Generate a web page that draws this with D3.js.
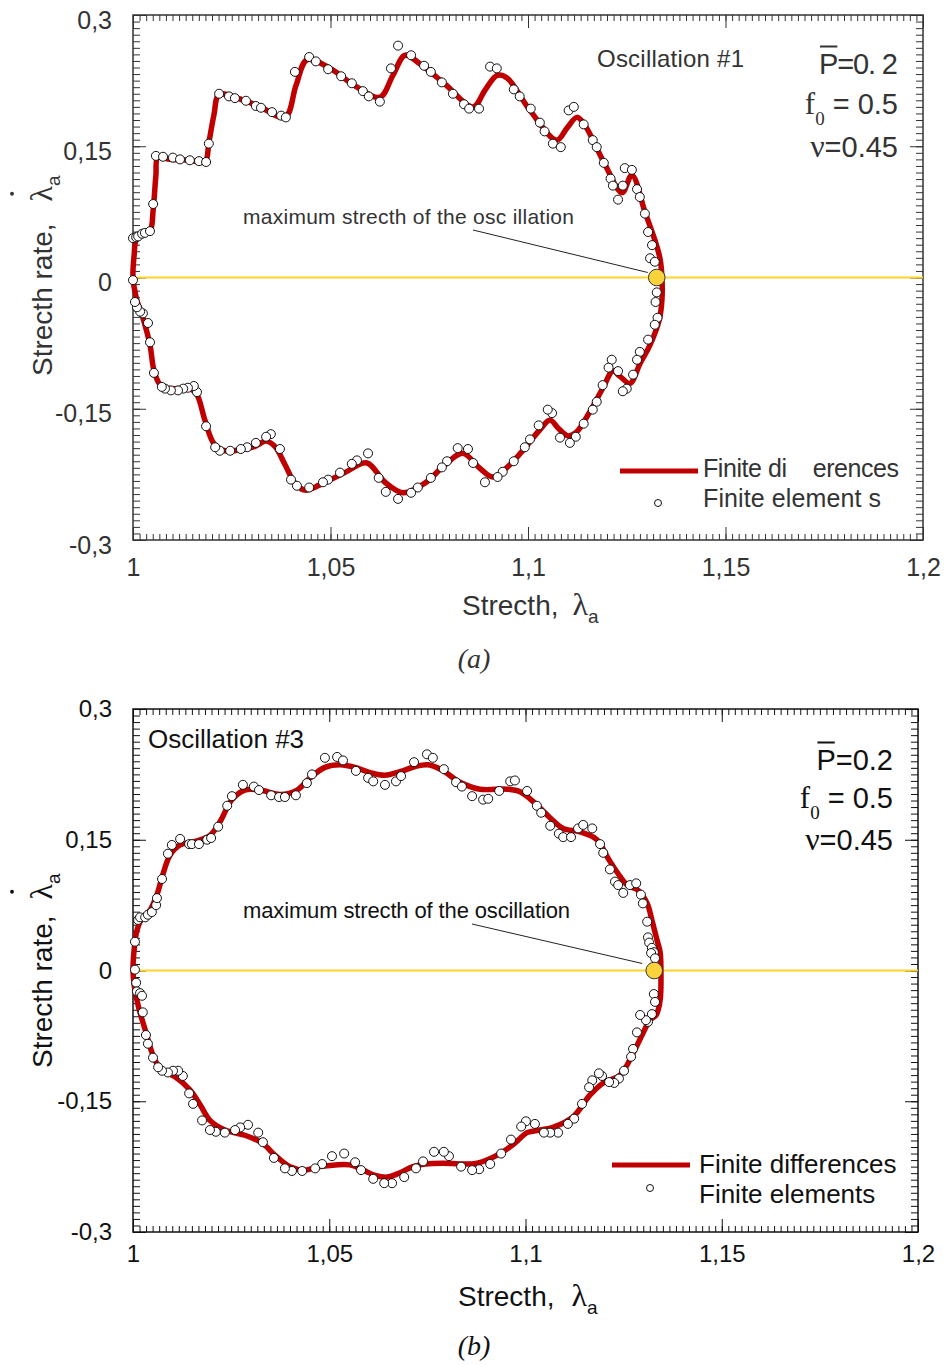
<!DOCTYPE html>
<html>
<head>
<meta charset="utf-8">
<script src="https://cdn.jsdelivr.net/npm/d3@7"></script>
<style>
  body { margin: 0; background: #fff; }
</style>
</head>
<body>
<svg id="chart" width="946" height="1365" font-family="'Liberation Sans', Arial, sans-serif"></svg>
<script>
// tick values and labels (decimal comma as in the original)
const xTicks = [1, 1.05, 1.1, 1.15, 1.2];
const xTickLabels = ['1', '1,05', '1,1', '1,15', '1,2'];
const yTicks = [-0.3, -0.15, 0, 0.15, 0.3];
const yTickLabels = ['-0,3', '-0,15', '0', '0,15', '0,3'];

// Oscillation #1 : finite differences (closed loop) [stretch, stretch rate]
const curveA = [
  [1.0000, 0.001], [1.0003, 0.026], [1.0008, 0.043], [1.0023, 0.049], [1.0043, 0.053],
  [1.0051, 0.077], [1.0058, 0.117], [1.0063, 0.137], [1.0094, 0.135], [1.0144, 0.134],
  [1.0182, 0.132], [1.0192, 0.154], [1.0205, 0.186], [1.0218, 0.209], [1.0271, 0.204],
  [1.0322, 0.195], [1.0385, 0.183], [1.0413, 0.220], [1.0441, 0.249], [1.0499, 0.239],
  [1.0562, 0.219], [1.0625, 0.206], [1.0658, 0.231], [1.0689, 0.254], [1.0727, 0.244],
  [1.0790, 0.221], [1.0861, 0.195], [1.0891, 0.214], [1.0922, 0.231], [1.0947, 0.228],
  [1.1005, 0.191], [1.1073, 0.157], [1.1099, 0.171], [1.1124, 0.183], [1.1144, 0.174],
  [1.1195, 0.129], [1.1238, 0.097], [1.1263, 0.117], [1.1296, 0.075], [1.1321, 0.043],
  [1.1334, 0.022], [1.1339, 0.001], [1.1339, -0.026], [1.1332, -0.049], [1.1309, -0.077],
  [1.1284, -0.098], [1.1258, -0.121], [1.1233, -0.113], [1.1215, -0.107], [1.1190, -0.126],
  [1.1157, -0.153], [1.1122, -0.177], [1.1101, -0.181], [1.1076, -0.172], [1.1056, -0.163],
  [1.1030, -0.174], [1.0992, -0.195], [1.0954, -0.214], [1.0911, -0.228], [1.0878, -0.218],
  [1.0835, -0.201], [1.0790, -0.214], [1.0739, -0.235], [1.0684, -0.246], [1.0638, -0.234],
  [1.0592, -0.212], [1.0536, -0.223], [1.0473, -0.237], [1.0435, -0.243], [1.0410, -0.235],
  [1.0385, -0.214], [1.0359, -0.193], [1.0337, -0.187], [1.0309, -0.193], [1.0271, -0.197],
  [1.0233, -0.198], [1.0205, -0.190], [1.0182, -0.163], [1.0162, -0.134], [1.0144, -0.127],
  [1.0094, -0.127], [1.0068, -0.122], [1.0053, -0.106], [1.0043, -0.077], [1.0025, -0.046],
  [1.0008, -0.023]
];

// Oscillation #1 : finite elements
const pointsA = [
  [1.0000, -0.003], [1.0000, 0.045], [1.0008, 0.046], [1.0013, 0.047], [1.0023, 0.050],
  [1.0030, 0.051], [1.0043, 0.053], [1.0051, 0.084], [1.0058, 0.139], [1.0076, 0.138],
  [1.0101, 0.137], [1.0119, 0.135], [1.0144, 0.134], [1.0167, 0.133], [1.0185, 0.132],
  [1.0192, 0.153], [1.0218, 0.210], [1.0243, 0.207], [1.0258, 0.205], [1.0286, 0.202],
  [1.0311, 0.196], [1.0324, 0.194], [1.0352, 0.189], [1.0375, 0.185], [1.0387, 0.183],
  [1.0410, 0.235], [1.0446, 0.252], [1.0463, 0.247], [1.0494, 0.238], [1.0527, 0.230],
  [1.0554, 0.222], [1.0582, 0.213], [1.0597, 0.207], [1.0625, 0.201], [1.0653, 0.239],
  [1.0671, 0.265], [1.0704, 0.254], [1.0737, 0.242], [1.0754, 0.235], [1.0782, 0.223],
  [1.0810, 0.210], [1.0838, 0.198], [1.0851, 0.193], [1.0876, 0.193], [1.0904, 0.241],
  [1.0921, 0.239], [1.0964, 0.215], [1.0979, 0.207], [1.1007, 0.193], [1.1030, 0.177],
  [1.1042, 0.167], [1.1063, 0.153], [1.1083, 0.149], [1.1103, 0.191], [1.1116, 0.195],
  [1.1141, 0.175], [1.1164, 0.157], [1.1174, 0.149], [1.1192, 0.131], [1.1209, 0.113],
  [1.1215, 0.105], [1.1228, 0.089], [1.1240, 0.105], [1.1245, 0.125], [1.1263, 0.123],
  [1.1276, 0.101], [1.1283, 0.092], [1.1296, 0.073], [1.1304, 0.052], [1.1314, 0.037],
  [1.1309, 0.022], [1.1321, 0.018], [1.1326, -0.017], [1.1323, -0.028], [1.1328, -0.046],
  [1.1321, -0.054], [1.1304, -0.071], [1.1283, -0.085], [1.1276, -0.094], [1.1266, -0.111],
  [1.1250, -0.127], [1.1240, -0.130], [1.1228, -0.107], [1.1212, -0.094], [1.1204, -0.103],
  [1.1189, -0.123], [1.1174, -0.142], [1.1164, -0.151], [1.1141, -0.167], [1.1121, -0.182],
  [1.1106, -0.189], [1.1081, -0.183], [1.1061, -0.155], [1.1050, -0.151], [1.1027, -0.169],
  [1.1005, -0.185], [1.0992, -0.194], [1.0964, -0.210], [1.0936, -0.222], [1.0923, -0.228],
  [1.0891, -0.234], [1.0861, -0.212], [1.0848, -0.196], [1.0822, -0.195], [1.0795, -0.210],
  [1.0782, -0.217], [1.0754, -0.229], [1.0721, -0.240], [1.0704, -0.246], [1.0671, -0.253],
  [1.0640, -0.245], [1.0622, -0.229], [1.0595, -0.201], [1.0567, -0.209], [1.0554, -0.213],
  [1.0524, -0.223], [1.0494, -0.231], [1.0481, -0.234], [1.0446, -0.240], [1.0415, -0.238],
  [1.0400, -0.231], [1.0372, -0.196], [1.0349, -0.179], [1.0337, -0.182], [1.0311, -0.189],
  [1.0289, -0.194], [1.0273, -0.196], [1.0246, -0.198], [1.0220, -0.198], [1.0208, -0.194],
  [1.0185, -0.170], [1.0162, -0.131], [1.0154, -0.124], [1.0139, -0.126], [1.0127, -0.127],
  [1.0114, -0.129], [1.0096, -0.129], [1.0081, -0.127], [1.0073, -0.125], [1.0053, -0.109],
  [1.0043, -0.074], [1.0038, -0.052], [1.0025, -0.041], [1.0018, -0.039], [1.0010, -0.034],
  [1.0005, -0.028]
];

// Oscillation #3 : finite differences
const curveB = [
  [1.0000, 0.001], [1.0003, 0.024], [1.0010, 0.046], [1.0023, 0.060], [1.0043, 0.069],
  [1.0061, 0.087], [1.0076, 0.110], [1.0094, 0.132], [1.0120, 0.144], [1.0158, 0.148],
  [1.0196, 0.155], [1.0222, 0.171], [1.0252, 0.196], [1.0285, 0.207], [1.0324, 0.207],
  [1.0375, 0.202], [1.0418, 0.207], [1.0451, 0.221], [1.0489, 0.233], [1.0527, 0.236],
  [1.0566, 0.233], [1.0604, 0.227], [1.0642, 0.224], [1.0680, 0.228], [1.0719, 0.234],
  [1.0752, 0.236], [1.0787, 0.230], [1.0833, 0.216], [1.0884, 0.208], [1.0953, 0.208],
  [1.0986, 0.205], [1.1024, 0.192], [1.1063, 0.175], [1.1096, 0.163], [1.1139, 0.159],
  [1.1182, 0.150], [1.1210, 0.129], [1.1233, 0.113], [1.1259, 0.098], [1.1287, 0.092],
  [1.1310, 0.077], [1.1322, 0.058], [1.1335, 0.035], [1.1343, 0.021], [1.1345, 0.001],
  [1.1343, -0.034], [1.1333, -0.051], [1.1317, -0.057], [1.1297, -0.074], [1.1274, -0.095],
  [1.1241, -0.120], [1.1198, -0.129], [1.1164, -0.143], [1.1121, -0.168], [1.1070, -0.180],
  [1.1037, -0.183], [1.1004, -0.186], [1.0973, -0.198], [1.0935, -0.210], [1.0877, -0.221],
  [1.0833, -0.222], [1.0790, -0.221], [1.0744, -0.222], [1.0713, -0.225], [1.0680, -0.232],
  [1.0647, -0.237], [1.0617, -0.235], [1.0586, -0.229], [1.0553, -0.223], [1.0515, -0.223],
  [1.0476, -0.225], [1.0438, -0.229], [1.0400, -0.225], [1.0362, -0.212], [1.0329, -0.198],
  [1.0285, -0.189], [1.0234, -0.183], [1.0196, -0.172], [1.0171, -0.154], [1.0145, -0.137],
  [1.0107, -0.122], [1.0074, -0.114], [1.0056, -0.103], [1.0031, -0.068], [1.0013, -0.040],
  [1.0003, -0.017]
];

// Oscillation #3 : finite elements
const pointsB = [
  [1.0005, 0.033], [1.0005, 0.001], [1.0008, -0.014], [1.0010, -0.024], [1.0018, -0.026],
  [1.0023, -0.029], [1.0025, -0.048], [1.0013, 0.058], [1.0018, 0.061], [1.0031, 0.061],
  [1.0038, 0.064], [1.0048, 0.067], [1.0059, 0.075], [1.0061, 0.083], [1.0074, 0.105],
  [1.0089, 0.134], [1.0099, 0.144], [1.0120, 0.151], [1.0143, 0.145], [1.0150, 0.145],
  [1.0168, 0.145], [1.0189, 0.150], [1.0199, 0.152], [1.0217, 0.165], [1.0240, 0.189],
  [1.0252, 0.200], [1.0280, 0.213], [1.0308, 0.211], [1.0321, 0.207], [1.0352, 0.201],
  [1.0372, 0.199], [1.0387, 0.199], [1.0415, 0.201], [1.0443, 0.215], [1.0456, 0.225],
  [1.0489, 0.244], [1.0520, 0.245], [1.0535, 0.241], [1.0568, 0.229], [1.0599, 0.221],
  [1.0612, 0.217], [1.0642, 0.213], [1.0670, 0.217], [1.0683, 0.223], [1.0716, 0.239],
  [1.0749, 0.248], [1.0764, 0.244], [1.0792, 0.231], [1.0823, 0.216], [1.0838, 0.211],
  [1.0864, 0.200], [1.0892, 0.196], [1.0905, 0.197], [1.0933, 0.206], [1.0961, 0.217],
  [1.0973, 0.218], [1.1004, 0.206], [1.1029, 0.189], [1.1040, 0.181], [1.1063, 0.166],
  [1.1085, 0.157], [1.1096, 0.153], [1.1116, 0.153], [1.1134, 0.163], [1.1147, 0.167],
  [1.1170, 0.163], [1.1190, 0.145], [1.1198, 0.135], [1.1215, 0.116], [1.1228, 0.102],
  [1.1236, 0.098], [1.1249, 0.089], [1.1266, 0.098], [1.1282, 0.100], [1.1294, 0.087],
  [1.1299, 0.077], [1.1310, 0.056], [1.1312, 0.038], [1.1315, 0.032], [1.1322, 0.026],
  [1.1327, 0.021], [1.1320, 0.020], [1.1330, 0.014], [1.1327, -0.027], [1.1330, -0.036],
  [1.1322, -0.050], [1.1312, -0.059], [1.1307, -0.057], [1.1292, -0.051], [1.1284, -0.071],
  [1.1274, -0.090], [1.1269, -0.099], [1.1251, -0.115], [1.1238, -0.124], [1.1226, -0.129],
  [1.1213, -0.128], [1.1195, -0.121], [1.1187, -0.118], [1.1170, -0.126], [1.1162, -0.134],
  [1.1144, -0.153], [1.1124, -0.170], [1.1108, -0.176], [1.1083, -0.186], [1.1063, -0.186],
  [1.1047, -0.186], [1.1024, -0.176], [1.1001, -0.173], [1.0989, -0.179], [1.0963, -0.194],
  [1.0938, -0.210], [1.0910, -0.222], [1.0882, -0.228], [1.0864, -0.229], [1.0836, -0.225],
  [1.0805, -0.213], [1.0792, -0.208], [1.0767, -0.208], [1.0739, -0.219], [1.0721, -0.227],
  [1.0691, -0.237], [1.0660, -0.244], [1.0640, -0.244], [1.0612, -0.239], [1.0581, -0.229],
  [1.0566, -0.220], [1.0538, -0.210], [1.0507, -0.213], [1.0482, -0.222], [1.0464, -0.227],
  [1.0431, -0.230], [1.0405, -0.230], [1.0387, -0.227], [1.0359, -0.215], [1.0331, -0.197],
  [1.0319, -0.186], [1.0293, -0.177], [1.0273, -0.180], [1.0260, -0.183], [1.0234, -0.186],
  [1.0211, -0.185], [1.0196, -0.183], [1.0176, -0.172], [1.0153, -0.153], [1.0143, -0.141],
  [1.0127, -0.121], [1.0115, -0.115], [1.0102, -0.115], [1.0089, -0.117], [1.0074, -0.115],
  [1.0064, -0.111], [1.0051, -0.100], [1.0038, -0.084], [1.0033, -0.074]
];

// point of maximum stretch for each oscillation
const maxStretch = [[1.1326, 0], [1.1328, 0]];

const red = '#c00000', yellow = '#ffd42a';
const sans = '"Liberation Sans", Arial, sans-serif';
const serif = '"Liberation Serif", "Times New Roman", serif';

const panels = [
  {
    left: 133, right: 923, top: 15, bottom: 540, ink: '#333',
    curve: curveA, points: pointsA, peak: maxStretch[0],
    tickFont: 25, xPad: 18, yPad: 21, yShift: 5,
    osc: { text: 'Oscillation #1', x: 597, y: 67, size: 24, len: 147 },
    params: { right: 898, ys: [74, 114, 157], P: 'P=0. 2', size: 29, lenP: 79 },
    note: { text: 'maximum strecth of the osc illation', x: 243, y: 224, size: 21, len: 331,
            from: [473, 230], off: [-9, -5] },
    legend: { x0: 620, x1: 698, y: 471, cx: 658, cy: 503, tx: 703, ty: [477, 507], size: 25,
              labels: ['Finite di    erences', 'Finite element s'], lens: [196, 178] },
    xTitle: { x: 462, y: 615, gap: 14 },
    yTitle: { x: 52, y: 376, gap: 22 },
    caption: { text: '(a)', x: 474, y: 668 }
  },
  {
    left: 133, right: 918, top: 709, bottom: 1232, ink: '#111',
    curve: curveB, points: pointsB, peak: maxStretch[1],
    tickFont: 24, xPad: 13, yPad: 21, yShift: 0,
    osc: { text: 'Oscillation #3', x: 148, y: 748, size: 26 },
    params: { right: 893, ys: [770, 808, 850], P: 'P=0.2', size: 29 },
    note: { text: 'maximum strecth of the oscillation', x: 243, y: 918, size: 22, len: 327,
            from: [472, 924], off: [-12, -7] },
    legend: { x0: 612, x1: 690, y: 1165, cx: 650, cy: 1188, tx: 699, ty: [1173, 1203], size: 26,
              labels: ['Finite differences', 'Finite elements'] },
    xTitle: { x: 458, y: 1306, gap: 17 },
    yTitle: { x: 52, y: 1068, gap: 16 },
    caption: { text: '(b)', x: 474, y: 1355 }
  }
];

const svg = d3.select('#chart');

panels.forEach(drawPanel);

function drawPanel(p) {
  const x = d3.scaleLinear().domain([1, 1.2]).range([p.left, p.right]);
  const y = d3.scaleLinear().domain([-0.3, 0.3]).range([p.bottom, p.top]);
  const g = svg.append('g').attr('fill', p.ink);

  const xMinor = d3.range(0, 121).map(i => 1 + i * 0.05 / 30);
  const yMinor = d3.range(0, 81).map(i => -0.3 + i * 0.0075);

  // tick marks, all pointing into the frame
  const tickSets = [
    [d3.axisBottom(x), xMinor, 6, `translate(0,${p.bottom})`],
    [d3.axisTop(x), xMinor, 6, `translate(0,${p.top})`],
    [d3.axisLeft(y), yMinor, 7, `translate(${p.left},0)`],
    [d3.axisRight(y), yMinor, 7, `translate(${p.right},0)`],
    [d3.axisTop(x), xTicks, 13, `translate(0,${p.top})`],
    [d3.axisRight(y), yTicks, 13, `translate(${p.right},0)`]
  ];
  tickSets.forEach(([axis, vals, len, tr]) => {
    g.append('g').attr('transform', tr)
      .call(axis.tickValues(vals).tickSize(-len).tickSizeOuter(0).tickFormat(''))
      .call(a => a.select('.domain').remove())
      .call(a => a.selectAll('line').attr('stroke', p.ink));
  });

  // labelled axes
  g.append('g').attr('transform', `translate(0,${p.bottom})`)
    .call(d3.axisBottom(x).tickValues(xTicks).tickSize(-13).tickSizeOuter(0)
      .tickPadding(p.xPad).tickFormat((d, i) => xTickLabels[i]))
    .attr('font-size', p.tickFont).attr('font-family', sans)
    .call(a => a.select('.domain').remove())
    .call(a => a.selectAll('line').attr('stroke', p.ink))
    .call(a => a.selectAll('text').attr('fill', p.ink));

  g.append('g').attr('transform', `translate(${p.left},0)`)
    .call(d3.axisLeft(y).tickValues(yTicks).tickSize(-13).tickSizeOuter(0)
      .tickPadding(p.yPad).tickFormat((d, i) => yTickLabels[i]))
    .attr('font-size', p.tickFont).attr('font-family', sans)
    .call(a => a.select('.domain').remove())
    .call(a => a.selectAll('line').attr('stroke', p.ink))
    .call(a => a.selectAll('text').attr('fill', p.ink).attr('y', p.yShift));

  // frame
  g.append('rect')
    .attr('x', p.left).attr('y', p.top)
    .attr('width', p.right - p.left).attr('height', p.bottom - p.top)
    .attr('fill', 'none').attr('stroke', p.ink).attr('stroke-width', 1.5);

  // zero line
  g.append('line')
    .attr('x1', x(1)).attr('x2', x(1.2)).attr('y1', y(0)).attr('y2', y(0))
    .attr('stroke', yellow).attr('stroke-width', 2);

  // finite differences
  const line = d3.line()
    .x(d => x(d[0])).y(d => y(d[1]))
    .curve(d3.curveCatmullRomClosed.alpha(0.5));
  g.append('path').datum(p.curve)
    .attr('d', line).attr('fill', 'none')
    .attr('stroke', red).attr('stroke-width', 5.5).attr('stroke-linejoin', 'round');

  // finite elements
  g.append('g').selectAll('circle')
    .data(p.points).enter()
    .append('circle')
      .attr('cx', d => x(d[0])).attr('cy', d => y(d[1])).attr('r', 4.5)
      .attr('fill', '#fff').attr('stroke', '#111').attr('stroke-width', 1);

  // leader line and maximum stretch marker
  const px = x(p.peak[0]), py = y(p.peak[1]);
  g.append('line')
    .attr('x1', p.note.from[0]).attr('y1', p.note.from[1])
    .attr('x2', px + p.note.off[0]).attr('y2', py + p.note.off[1])
    .attr('stroke', '#222').attr('stroke-width', 1);
  g.append('circle')
    .attr('cx', px).attr('cy', py).attr('r', 8.3)
    .attr('fill', '#f9d23c').attr('stroke', '#333').attr('stroke-width', 1);

  const note = g.append('text')
    .attr('x', p.note.x).attr('y', p.note.y)
    .attr('font-size', p.note.size).style('white-space', 'pre')
    .text(p.note.text);
  if (p.note.len) note.attr('textLength', p.note.len).attr('lengthAdjust', 'spacing');

  const osc = g.append('text')
    .attr('x', p.osc.x).attr('y', p.osc.y)
    .attr('font-size', p.osc.size)
    .text(p.osc.text);
  if (p.osc.len) osc.attr('textLength', p.osc.len).attr('lengthAdjust', 'spacing');

  // parameters: P bar, f0, nu
  const pr = p.params;
  const pText = g.append('text')
    .attr('x', pr.right).attr('y', pr.ys[0]).attr('text-anchor', 'end')
    .attr('font-size', pr.size).style('white-space', 'pre')
    .text(pr.P);
  if (pr.lenP) pText.attr('textLength', pr.lenP).attr('lengthAdjust', 'spacing');
  const pBox = pText.node().getExtentOfChar(0);
  g.append('line')
    .attr('x1', pBox.x + 1).attr('x2', pBox.x + pBox.width - 1)
    .attr('y1', pr.ys[0] - 27.5).attr('y2', pr.ys[0] - 27.5)
    .attr('stroke', p.ink).attr('stroke-width', 2);

  const f0 = g.append('text')
    .attr('x', pr.right).attr('y', pr.ys[1]).attr('text-anchor', 'end')
    .attr('font-size', pr.size);
  f0.append('tspan').attr('font-family', serif).attr('font-size', pr.size + 2).text('f');
  f0.append('tspan').attr('font-family', serif).attr('font-size', 19).attr('dy', 11).text('0');
  f0.append('tspan').attr('dy', -11).style('white-space', 'pre').text(' = 0.5');

  const nu = g.append('text')
    .attr('x', pr.right).attr('y', pr.ys[2]).attr('text-anchor', 'end')
    .attr('font-size', pr.size);
  nu.append('tspan').attr('font-family', serif).attr('font-size', pr.size + 3).text('ν');
  nu.append('tspan').text('=0.45');

  // legend
  const lg = p.legend;
  g.append('line')
    .attr('x1', lg.x0).attr('x2', lg.x1).attr('y1', lg.y).attr('y2', lg.y)
    .attr('stroke', red).attr('stroke-width', 5);
  g.append('circle')
    .attr('cx', lg.cx).attr('cy', lg.cy).attr('r', 3.5)
    .attr('fill', '#fff').attr('stroke', '#111').attr('stroke-width', 1);
  lg.labels.forEach((t, i) => {
    const lt = g.append('text')
      .attr('x', lg.tx).attr('y', lg.ty[i])
      .attr('font-size', lg.size).style('white-space', 'pre')
      .text(t);
    if (lg.lens) lt.attr('textLength', lg.lens[i]).attr('lengthAdjust', 'spacing');
  });

  // x title
  const xt = g.append('text')
    .attr('x', p.xTitle.x).attr('y', p.xTitle.y)
    .attr('font-size', 28);
  xt.append('tspan').text('Strecth,');
  xt.append('tspan').attr('dx', p.xTitle.gap).attr('font-family', serif).attr('font-size', 32).text('λ');
  xt.append('tspan').attr('dy', 8).attr('font-size', 19).text('a');

  // y title (rotated) with derivative dot over lambda
  const yg = g.append('g')
    .attr('transform', `translate(${p.yTitle.x},${p.yTitle.y}) rotate(-90)`);
  const yt = yg.append('text').attr('font-size', 28);
  yt.append('tspan').text('Strecth rate,');
  yt.append('tspan').attr('dx', p.yTitle.gap).attr('font-family', serif).attr('font-size', 32).text('λ');
  yt.append('tspan').attr('dy', 8).attr('font-size', 19).text('a');
  const lam = yt.node().getExtentOfChar(13);
  yg.append('circle')
    .attr('cx', lam.x + lam.width / 2).attr('cy', -(p.yTitle.x - 12))
    .attr('r', 1.9).attr('fill', p.ink);

  // caption
  g.append('text')
    .attr('x', p.caption.x).attr('y', p.caption.y).attr('text-anchor', 'middle')
    .attr('font-family', serif).attr('font-style', 'italic').attr('font-size', 28)
    .text(p.caption.text);
}
</script>
</body>
</html>
